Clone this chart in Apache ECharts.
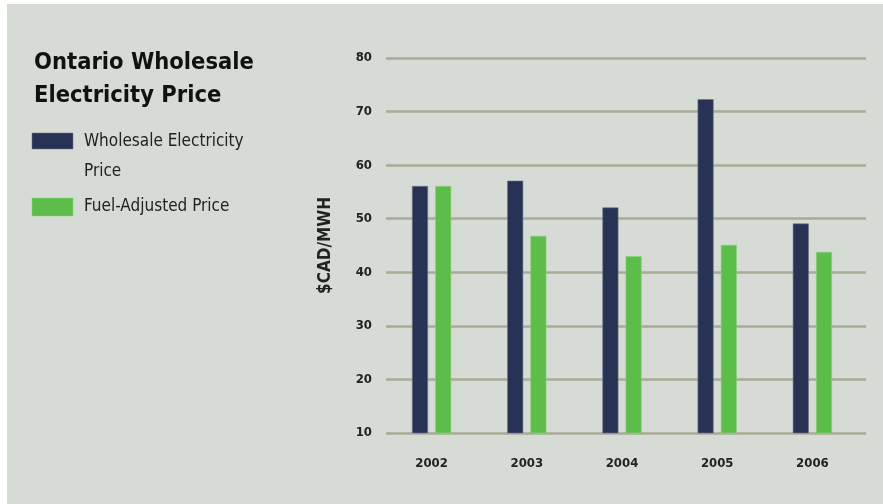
<!DOCTYPE html>
<html>
<head>
<meta charset="utf-8">
<script src="https://cdn.jsdelivr.net/npm/echarts@6/dist/echarts.min.js"></script>
<style>
html,body{margin:0;padding:0;background:#ffffff;}
#chart{width:883px;height:504px;}
</style>
</head>
<body>
<div id="chart"></div>
<script>
const categories = ['2002', '2003', '2004', '2005', '2006'];
const wholesale = [56.1, 57.1, 52.1, 72.3, 49.1];
const fuelAdjusted = [56.1, 46.8, 43.0, 45.1, 43.8];
const yTicks = { min: 10, max: 80, interval: 10 };
const titleLines = ['Ontario Wholesale', 'Electricity Price'];
const seriesNames = ['Wholesale Electricity\nPrice', 'Fuel-Adjusted Price'];
const yAxisTitle = '$CAD/MWH';

const FONT = "'Liberation Sans Narrow', 'DejaVu Sans Condensed', 'Liberation Sans', sans-serif";
const DARK = '#283254';
const GREEN = '#5dbd4a';

const chart = echarts.init(document.getElementById('chart'));
const option = {
  backgroundColor: 'transparent',
  animation: false,
  textStyle: { fontFamily: FONT },
  graphic: [
    { type: 'rect', z: -10, silent: true, shape: { x: 7, y: 4, width: 876, height: 500 }, style: { fill: '#d6dbd5' } },
    { type: 'text', left: 34, top: 46, style: { text: titleLines.join('\n'), font: "bold 23.5px " + FONT, fill: '#111111', lineHeight: 33 } },
    { type: 'rect', shape: { x: 32, y: 133, width: 41, height: 16 }, style: { fill: DARK, stroke: '#6d748c', lineWidth: 0.5 } },
    { type: 'text', left: 84, top: 127, style: { text: seriesNames[0], font: "17px " + FONT, fill: '#222222', lineHeight: 30 } },
    { type: 'rect', shape: { x: 32, y: 198, width: 41, height: 18 }, style: { fill: GREEN, stroke: '#8fd07f', lineWidth: 0.5 } },
    { type: 'text', left: 84, top: 197, style: { text: seriesNames[1], font: "17px " + FONT, fill: '#222222', lineHeight: 20 } }
  ],
  grid: [
    { left: 384, width: 476, top: 58, bottom: 71 },
    { left: 386, right: 17, top: 58, bottom: 71 }
  ],
  xAxis: [
    {
      type: 'category', gridIndex: 0, data: categories,
      axisLine: { show: false }, axisTick: { show: false },
      axisLabel: { margin: 24, color: '#222222', fontSize: 13, fontWeight: 'bold', fontFamily: FONT }
    },
    { type: 'value', gridIndex: 1, show: false, min: 0, max: 1 }
  ],
  yAxis: [
    {
      type: 'value', gridIndex: 0, min: yTicks.min, max: yTicks.max, interval: yTicks.interval,
      name: yAxisTitle, nameLocation: 'middle', nameGap: 50, nameRotate: 90,
      nameTextStyle: { fontSize: 17, fontWeight: 'bold', color: '#222222', fontFamily: FONT },
      axisLine: { show: false }, axisTick: { show: false },
      axisLabel: { margin: 12, color: '#222222', fontSize: 13, fontWeight: 'bold', fontFamily: FONT },
      splitLine: { show: false }
    },
    {
      type: 'value', gridIndex: 1, min: yTicks.min, max: yTicks.max, interval: yTicks.interval,
      axisLine: { show: false }, axisTick: { show: false }, axisLabel: { show: false },
      splitLine: { show: true, lineStyle: { color: '#a8ab96', width: 2.5 } }
    }
  ],
  series: [
    {
      name: seriesNames[0], type: 'bar', xAxisIndex: 0, yAxisIndex: 0, data: wholesale,
      barWidth: 16, barGap: '45%', z: 5,
      itemStyle: { color: DARK, borderColor: '#6d748c', borderWidth: 0.6 }
    },
    {
      name: seriesNames[1], type: 'bar', xAxisIndex: 0, yAxisIndex: 0, data: fuelAdjusted,
      barWidth: 16, barGap: '45%', z: 5,
      itemStyle: { color: GREEN, borderColor: '#8fd07f', borderWidth: 0.6 }
    }
  ]
};
chart.setOption(option);
</script>
</body>
</html>
